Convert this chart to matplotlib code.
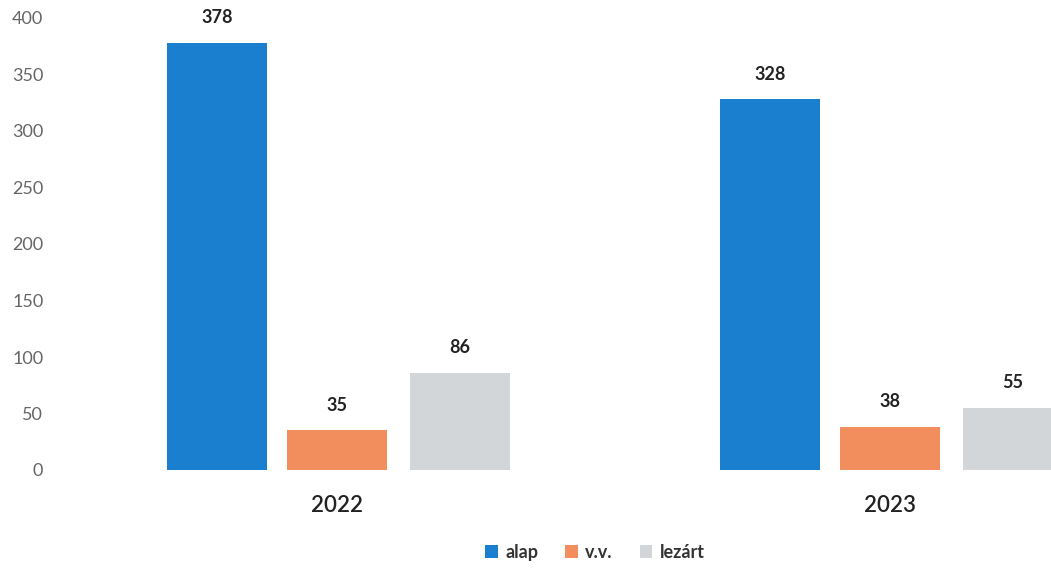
import numpy as np
import matplotlib.pyplot as plt

years = ["2022", "2023"]
series = ["alap", "v.v.", "lezárt"]
alap = [378, 328]
vv = [35, 38]
lezart = [86, 55]
yticks = [0, 50, 100, 150, 200, 250, 300, 350, 400]

colors = ["#1a7fcf", "#f28d5d", "#d3d6d8"]

plt.rcParams["font.family"] = ["Lato", "DejaVu Sans"]

W, H = 1051, 577
fig = plt.figure(figsize=(W / 100, H / 100), dpi=100)
# axes placed in pixel terms: left 60px, right edge of figure, baseline at 470px, top at 18px
ax = fig.add_axes([60 / W, (H - 470) / H, (W - 60) / W, (470 - 18) / H])

x = np.arange(len(years))
width = 0.18
offsets = [-0.217, 0.0, 0.222]
for vals, off, col, name in zip([alap, vv, lezart], offsets, colors, series):
    bars = ax.bar(x + off, vals, width, color=col, label=name)
    for b, v in zip(bars, vals):
        ax.annotate(str(v), (b.get_x() + b.get_width() / 2, v),
                    xytext=(0, 12), textcoords="offset points",
                    ha="center", va="bottom", fontsize=13, fontweight="bold",
                    color="#222222")

ax.set_xlim(-0.501, 1.291)
ax.set_ylim(0, 400)
ax.set_yticks(yticks)
ax.set_yticklabels([str(t) for t in yticks], fontsize=13, color="#666666")
ax.tick_params(axis="y", length=0, pad=12)
ax.set_xticks(x)
ax.set_xticklabels(years, fontsize=16, color="#222222", fontweight="semibold")
ax.tick_params(axis="x", length=0, pad=18)
for s in ax.spines.values():
    s.set_visible(False)

fig.legend(loc="lower center", bbox_to_anchor=(0.566, 0.0), ncol=3, frameon=False,
           handlelength=0.7, handleheight=0.7, handletextpad=0.4,
           columnspacing=1.5, labelcolor="#333333",
           prop={"weight": "bold", "size": 13})

fig.savefig("out.png", dpi=100)
